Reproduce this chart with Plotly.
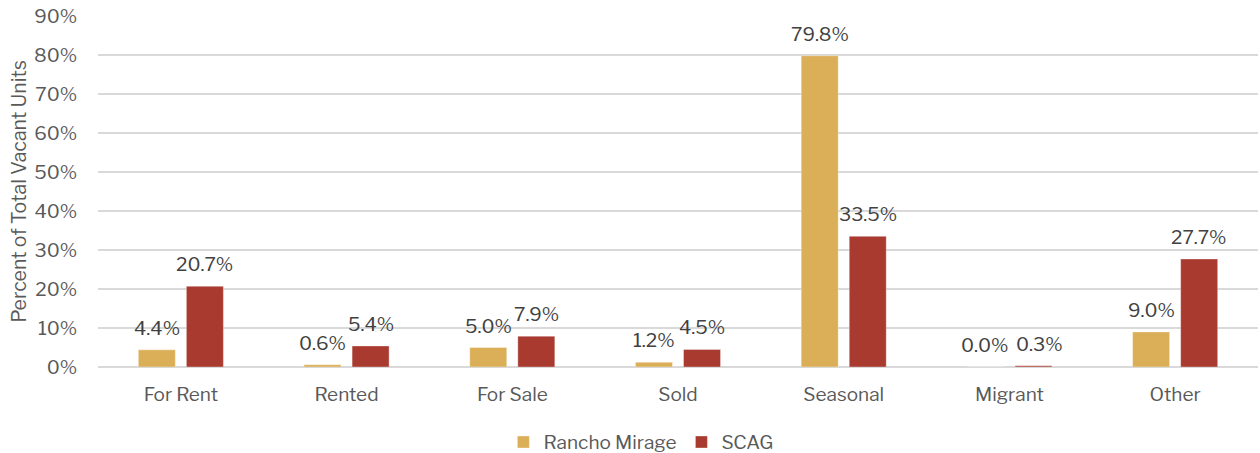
import plotly.graph_objects as go

categories = ["For Rent", "Rented", "For Sale", "Sold", "Seasonal", "Migrant", "Other"]
rancho_mirage = [4.4, 0.6, 5.0, 1.2, 79.8, 0.0, 9.0]
scag = [20.7, 5.4, 7.9, 4.5, 33.5, 0.3, 27.7]

FONT = "Libre Franklin, Franklin Gothic Book, Roboto, Arial, sans-serif"
GOLD = "#DBAE58"
RED = "#A93A30"
SLOT = 24  # half the per-series slot width in px, used to centre labels on bars

series = [("Rancho Mirage", rancho_mirage, GOLD, -SLOT), ("SCAG", scag, RED, SLOT)]

fig = go.Figure()
for name, vals, color, shift in series:
    fig.add_trace(go.Bar(
        x=categories,
        y=vals,
        name=name,
        marker=dict(color=color, line=dict(width=1, color="rgba(255,255,255,0.35)")),
        hoverinfo="x+y+name",
    ))
    for cat, v in zip(categories, vals):
        # Excel nudged the tiny Migrant/SCAG label right so it doesn't touch its neighbour
        nudge = 6 if (cat == "Migrant" and shift > 0) else 0
        fig.add_annotation(
            x=cat, y=v, text=f"{v:.1f}%",
            showarrow=False, yanchor="bottom", xanchor="center",
            xshift=shift + nudge, yshift=8,
            font=dict(size=19, color="#404040", family=FONT),
        )

fig.update_layout(
    barmode="group",
    bargap=0.42,
    bargroupgap=0.23,
    width=1260,
    height=453,
    plot_bgcolor="white",
    paper_bgcolor="white",
    font=dict(family=FONT, color="#595959", size=19),
    margin=dict(l=98, r=2, t=16, b=86, autoexpand=False),
    xaxis=dict(
        tickfont=dict(size=19, color="#595959"),
        showgrid=False,
        showline=False,
        ticks="outside",
        tickcolor="rgba(0,0,0,0)",
        ticklen=10,
        automargin=False,
    ),
    yaxis=dict(
        range=[0, 90],
        dtick=10,
        ticksuffix="%",
        gridcolor="#D9D9D9",
        gridwidth=1.5,
        zeroline=True,
        zerolinecolor="#D9D9D9",
        zerolinewidth=1.5,
        tickfont=dict(size=19, color="#595959"),
        ticks="outside",
        tickcolor="rgba(0,0,0,0)",
        ticklen=16,
        automargin=False,
        title=dict(text="Percent of Total Vacant Units", font=dict(size=19.5, color="#595959"), standoff=2),
    ),
    legend=dict(
        orientation="h",
        x=0.468,
        xanchor="center",
        y=-0.16,
        yanchor="top",
        font=dict(size=19, color="#595959"),
        itemwidth=30,
    ),
    showlegend=True,
)

# drop the browser's default body margin so the figure sits at the page corner
fig.write_html(
    "out.html",
    config={"displayModeBar": False},
    post_script="document.body.style.margin = '0';",
)
